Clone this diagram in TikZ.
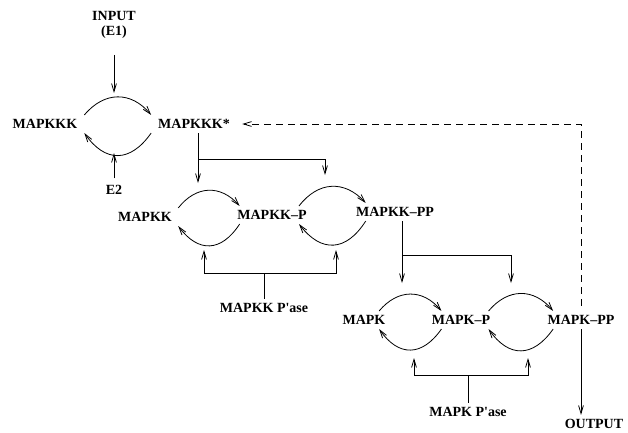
\documentclass[tikz,border=0pt]{standalone}
\usepackage{fontspec}
\setmainfont{Liberation Serif}
\usetikzlibrary{arrows.meta}

\tikzset{every picture/.style={line width=0.6pt}}
\tikzset{
  sp/.style={font=\bfseries\fontsize{10.5}{11.25}\selectfont, inner xsep=3pt, inner ysep=3pt},
  fb/.style={dashed, dash pattern=on 5pt off 4pt},
  up/.style={bend right=50, looseness=1.2},
  down/.style={bend right=55, looseness=1.4},
}

\begin{document}
\begin{tikzpicture}[x=0.75pt,y=0.75pt,yscale=-1,xscale=1,>={Straight Barb[length=6pt,width=3.6pt]}]
\path[use as bounding box] (0,0) rectangle (628,432);

% Species
\node[sp,align=center] (inp) at (114,25) {INPUT\\(E1)};
\node[sp] (kkk) at (45,124) {MAPKKK};
\node[sp] (kkks) at (194,124) {MAPKKK*};
\node[sp] (e2) at (114,190) {E2};
\node[sp] (kk) at (145,217) {MAPKK};
\node[sp] (kkp) at (272,215) {MAPKK--P};
\node[sp] (kkpp) at (395,212) {MAPKK--PP};
\node[sp] (kkpase) at (264,308) {MAPKK P\textquotesingle ase};
\node[sp] (k) at (364,320) {MAPK};
\node[sp] (kp) at (461,320) {MAPK--P};
\node[sp] (kpp) at (581,320) {MAPK--PP};
\node[sp] (kpase) at (468,412) {MAPK P\textquotesingle ase};
\node[sp] (out) at (594,424) {OUTPUT};

% Free ends
\coordinate (t1) at (114,93);
\coordinate (t2) at (114,153);
\coordinate (b1) at (198,159);
\coordinate (t3) at (198,183);
\coordinate (t4) at (325,175);
\coordinate (b2) at (402,255);
\coordinate (t5) at (402,283);
\coordinate (t6) at (511,283);
\coordinate (j1) at (264,273);
\coordinate (u1) at (204,250);
\coordinate (u2) at (336,250);
\coordinate (j2) at (468,375);
\coordinate (u3) at (414,358);
\coordinate (u4) at (528,358);

% Cycle 1
\draw[->] ([xshift=2pt]kkk.north east) to[up] ([xshift=-2pt]kkks.north west);
\draw[->] ([xshift=-2pt]kkks.south west) to[down] ([xshift=2pt]kkk.south east);
\draw[->, shorten <=9pt] (inp.south) -- (t1);
\draw[->, shorten <=2pt] (e2.north) -- (t2);

% Cycle 2
\draw[->] ([xshift=1.5pt]kk.north east) to[up] ([xshift=5pt]kkp.north west);
\draw[->] ([xshift=5pt]kkp.south west) to[down] ([xshift=1.5pt]kk.south east);
\draw[->] ([xshift=-9pt]kkp.north east) to[up] ([xshift=10.5pt]kkpp.north west);
\draw[->] ([xshift=10.5pt]kkpp.south west) to[down] ([xshift=-9pt]kkp.south east);
\draw[->] (kkks.south -| b1) -- (t3);
\draw[->] (b1) -| (t4);

% Cycle 3
\draw[->] ([xshift=-8pt]k.north east) to[up] ([xshift=10.5pt]kp.north west);
\draw[->] ([xshift=10.5pt]kp.south west) to[down] ([xshift=-8pt]k.south east);
\draw[->] ([xshift=-4.5pt]kp.north east) to[up] ([xshift=7.5pt]kpp.north west);
\draw[->] ([xshift=7.5pt]kpp.south west) to[down] ([xshift=-4.5pt]kp.south east);
\draw[->] (kkpp.south -| b2) -- (t5);
\draw[->] (b2) -| (t6);

% Phosphatases
\draw (kkpase.north) -- (j1);
\draw[->] (j1) -| (u1);
\draw[->] (j1) -| (u2);
\draw (kpase.north) -- (j2);
\draw[->] (j2) -| (u3);
\draw[->] (j2) -| (u4);

% Output and feedback
\draw[->] (kpp.south) -- (kpp.south |- out.north);
\draw[->, fb, shorten <=4pt, shorten >=6pt] (kpp.north) |- (kkks.east);

\end{tikzpicture}
\end{document}
